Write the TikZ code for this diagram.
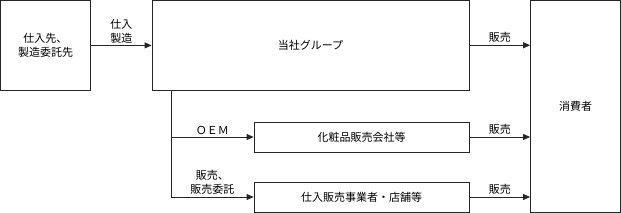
\documentclass[tikz,border=0pt]{standalone}
\usepackage{fontspec}
\newfontfamily\jpfont{Noto Sans CJK JP}
\usetikzlibrary{arrows.meta,positioning}

\begin{document}
\begin{tikzpicture}[
  x=1pt, y=-1pt,
  font=\jpfont\fontsize{11}{14}\selectfont,
  box/.style={draw=black!85, line width=0.8pt, align=center, inner sep=0pt},
  arr/.style={-{Triangle[length=7pt,width=6pt]}, draw=black!85, line width=0.8pt},
  lbl/.style={above, align=center, inner sep=2pt}
]
  \useasboundingbox (0,0) rectangle (621,213);
  % top row
  \node[box, minimum width=90pt, minimum height=90pt] (supplier) at (45.5,45.5) {仕入先、\\製造委託先};
  \node[box, minimum width=317pt, minimum height=89.5pt] (group) at (310.5,45.25) {当社グループ};
  \node[box, minimum width=90pt, minimum height=211.5pt] (consumer) at (575.5,106.25) {消費者};
  % lower row
  \node[box, minimum width=215pt, minimum height=30pt] (oem) at (361.5,137) {化粧品販売会社等};
  \node[box, minimum width=215pt, minimum height=30pt] (retail) at (361.5,197) {仕入販売事業者・店舗等};
  \coordinate (split) at (171,90);
  \draw[arr] (supplier) -- node[lbl]{仕入\\製造} (group);
  \draw[arr] (group.east) -- node[lbl]{販売} (group.east -| consumer.west);
  \draw[arr] (split) |- node[lbl, pos=0.75]{ＯＥＭ} (oem.west);
  \draw[arr] (split) |- node[lbl, pos=0.75]{販売、\\販売委託} (retail.west);
  \draw[arr] (oem.east) -- node[lbl]{販売} (oem.east -| consumer.west);
  \draw[arr] (retail.east) -- node[lbl]{販売} (retail.east -| consumer.west);
\end{tikzpicture}
\end{document}
